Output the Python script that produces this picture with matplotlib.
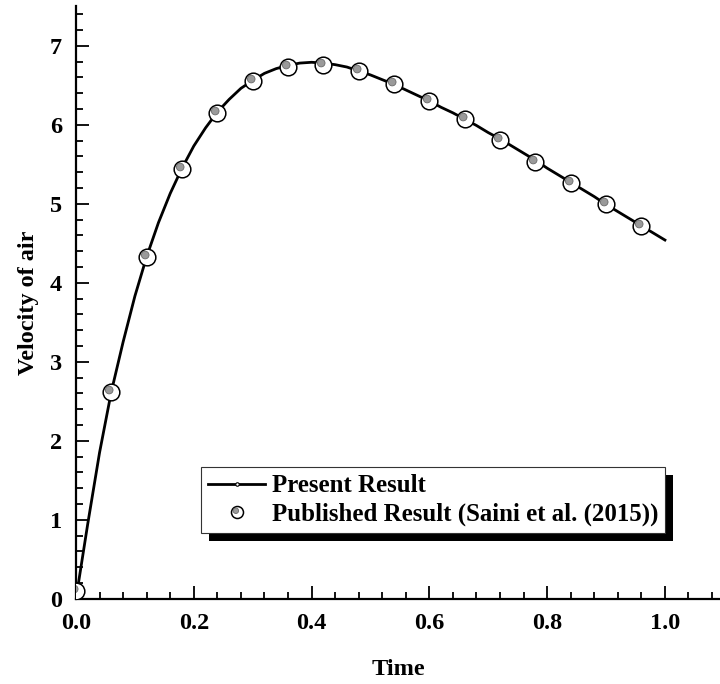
import matplotlib.pyplot as plt
from matplotlib.lines import Line2D
from matplotlib.markers import MarkerStyle
from matplotlib.patches import Rectangle
from matplotlib.transforms import Affine2D
from matplotlib.legend_handler import HandlerTuple
from matplotlib.ticker import MultipleLocator

# ---------- dados ----------
# curva do resultado presente
t_line = [0.00, 0.02, 0.04, 0.06, 0.08, 0.10, 0.12, 0.14, 0.16, 0.18, 0.20,
          0.22, 0.24, 0.26, 0.28, 0.30, 0.32, 0.34, 0.36, 0.38, 0.40, 0.42,
          0.44, 0.46, 0.48, 0.50, 0.52, 0.54, 0.56, 0.58, 0.60, 0.62, 0.64,
          0.66, 0.68, 0.70, 0.72, 0.74, 0.76, 0.78, 0.80, 0.82, 0.84, 0.86,
          0.88, 0.90, 0.92, 0.94, 0.96, 0.98, 1.00]
v_line = [0.00, 0.95, 1.85, 2.62, 3.25, 3.83, 4.33, 4.76, 5.13, 5.45, 5.73,
          5.96, 6.16, 6.32, 6.46, 6.56, 6.65, 6.71, 6.75, 6.78, 6.79, 6.78,
          6.76, 6.73, 6.68, 6.63, 6.57, 6.51, 6.44, 6.37, 6.30, 6.22, 6.15,
          6.07, 5.99, 5.90, 5.82, 5.73, 5.64, 5.55, 5.45, 5.36, 5.27, 5.18,
          5.09, 4.99, 4.90, 4.81, 4.72, 4.63, 4.54]

# pontos publicados (Saini et al. 2015)
t_pub = [0.00, 0.06, 0.12, 0.18, 0.24, 0.30, 0.36, 0.42, 0.48, 0.54, 0.60,
         0.66, 0.72, 0.78, 0.84, 0.90, 0.96]
v_pub = [0.10, 2.62, 4.32, 5.44, 6.15, 6.55, 6.73, 6.76, 6.68, 6.51, 6.30,
         6.07, 5.81, 5.53, 5.26, 4.99, 4.72]

label_line = "Present Result"
label_pub = "Published Result (Saini et al. (2015))"

plt.rcParams['font.family'] = ['Liberation Serif', 'DejaVu Serif']
plt.rcParams['font.weight'] = 'bold'
FS = 17.5

fig = plt.figure(figsize=(7.2, 6.84), dpi=100)
ax = fig.add_axes([76/720, 85.3/684, 644/720, 592.5/684])

ax.plot(t_line, v_line, color='black', lw=2, zorder=2)

# bolinha cinza deslocada para cima/esquerda dentro do círculo
dot = MarkerStyle('o', transform=Affine2D().translate(-0.3, 0.32))
ax.plot(t_pub, v_pub, ls='none', marker='o', ms=12, mfc='white',
        mec='black', mew=1.1, zorder=3)
ax.plot(t_pub, v_pub, ls='none', marker=dot, ms=5.5, mfc='#9a9a9a',
        mec='#6a6a6a', mew=0.6, zorder=4)

ax.set_xlim(0, 1.0935)
ax.set_ylim(0, 7.5)
ax.xaxis.set_major_locator(MultipleLocator(0.2))
ax.xaxis.set_minor_locator(MultipleLocator(0.04))
ax.yaxis.set_major_locator(MultipleLocator(1))
ax.yaxis.set_minor_locator(MultipleLocator(0.2))
ax.xaxis.set_major_formatter(plt.FormatStrFormatter('%.1f'))

for s in ['top', 'right']:
    ax.spines[s].set_visible(False)
for s in ['left', 'bottom']:
    ax.spines[s].set_linewidth(1.6)

ax.tick_params(which='major', direction='in', length=9.5, width=1.3,
               labelsize=FS, pad=10)
ax.tick_params(which='minor', direction='in', length=5, width=1.3)
for lab in ax.get_xticklabels() + ax.get_yticklabels():
    lab.set_fontweight('bold')

ax.set_xlabel("Time", fontsize=FS, fontweight='bold', labelpad=18)
ax.set_ylabel("Velocity of air", fontsize=FS, fontweight='bold', labelpad=8)

# legenda
h_line = Line2D([], [], color='black', lw=2, marker='o', ms=3.5,
                mfc='white', mec='black', mew=0.8)
h_circ = Line2D([], [], ls='none', marker='o', ms=12, mfc='white',
                mec='black', mew=1.1)
h_dot = Line2D([], [], ls='none', marker=dot, ms=5.5, mfc='#9a9a9a',
               mec='#6a6a6a', mew=0.6)
leg = ax.legend([h_line, (h_circ, h_dot)], [label_line, label_pub],
                handler_map={tuple: HandlerTuple(ndivide=1)},
                loc='upper left', bbox_to_anchor=(0.1936, 0.2223),
                borderaxespad=0, fontsize=17.9, markerscale=0.72,
                handlelength=2.3, handletextpad=0.25, labelspacing=0.2,
                borderpad=0.3, fancybox=False, framealpha=1,
                edgecolor='#333333', numpoints=1)
leg.get_frame().set_linewidth(0.8)
for t in leg.get_texts():
    t.set_fontweight('bold')

# sombra da legenda
fig.canvas.draw()
bb = leg.get_window_extent()
inv = ax.transAxes.inverted()
x0, y0 = inv.transform((bb.x0 + 8, bb.y0 - 8))
x1, y1 = inv.transform((bb.x1 + 8, bb.y1 - 8))
ax.add_patch(Rectangle((x0, y0), x1 - x0, y1 - y0, transform=ax.transAxes,
                       facecolor='black', edgecolor='none', zorder=4.9,
                       clip_on=False))

fig.savefig("out.png", dpi=100)
